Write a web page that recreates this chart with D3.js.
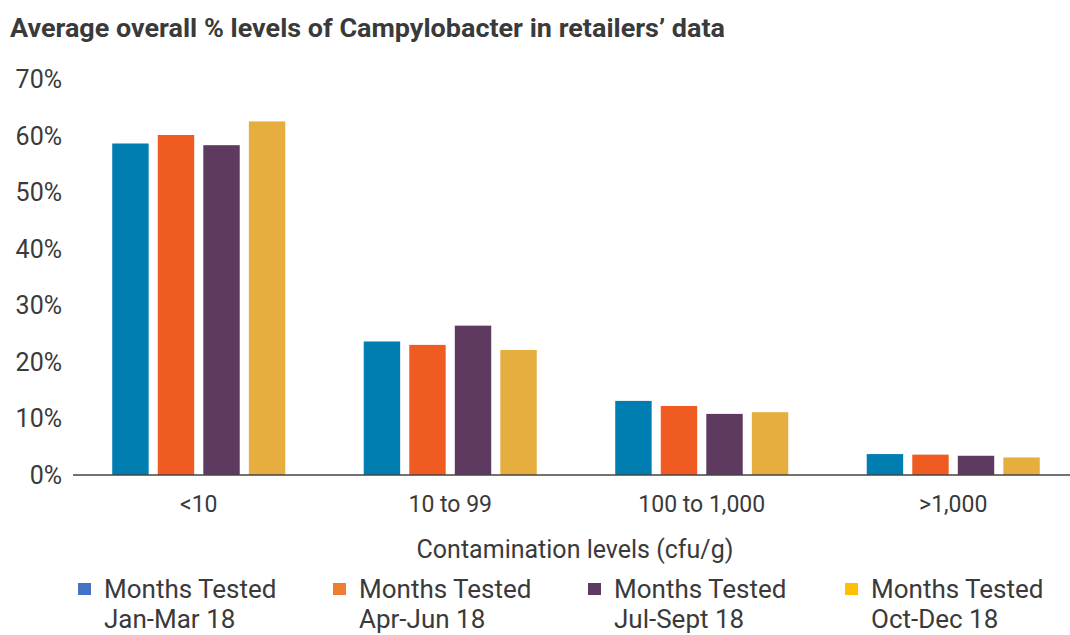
<!DOCTYPE html>
<meta charset="utf-8">
<script src="https://d3js.org/d3.v7.min.js"></script>
<style>
  body { margin: 0; background: #fff; }
  text { font-family: Roboto, "Open Sans", sans-serif; fill: #3a3a3a; }
</style>
<div id="my_dataviz"></div>
<script>
// categories and series
var levels = ["<10", "10 to 99", "100 to 1,000", ">1,000"];
var periods = ["Jan-Mar 18", "Apr-Jun 18", "Jul-Sept 18", "Oct-Dec 18"];
var janMar = [58.6, 23.6, 13.1, 3.7];
var aprJun = [60.1, 23.0, 12.2, 3.6];
var julSep = [58.3, 26.4, 10.8, 3.4];
var octDec = [62.5, 22.1, 11.1, 3.1];
var yTicks = [0, 10, 20, 30, 40, 50, 60, 70];

var series = [janMar, aprJun, julSep, octDec];
var barColors = ["#007db1", "#f05b22", "#5e3960", "#e6ad3f"];
var legendColors = ["#4472c4", "#ed7d31", "#5e3960", "#ffc000"];

var width = 1070, height = 635;
var svg = d3.select("#my_dataviz")
  .append("svg")
    .attr("width", width)
    .attr("height", height);

// title
svg.append("text")
  .attr("x", 10).attr("y", 37)
  .style("font-size", "25px")
  .style("font-weight", "bold")
  .attr("textLength", 715)
  .attr("lengthAdjust", "spacingAndGlyphs")
  .text("Average overall % levels of Campylobacter in retailers\u2019 data");

// scales
var x = d3.scaleBand()
  .domain(levels)
  .range([73, 1079])
  .paddingInner(0.312)
  .paddingOuter(0.156);
var xSub = d3.scaleBand()
  .domain(d3.range(4))
  .range([0, x.bandwidth()])
  .paddingInner(0.2);
var y = d3.scaleLinear()
  .domain([0, 70])
  .range([475, 79]);

// y tick labels (no axis line)
svg.append("g")
  .selectAll("text")
  .data(yTicks)
  .enter()
  .append("text")
    .attr("x", 62)
    .attr("y", function(d) { return y(d); })
    .attr("dy", "0.36em")
    .attr("text-anchor", "end")
    .style("font-size", "25px")
    .text(function(d) { return d + "%"; });

// bars
series.forEach(function(vals, i) {
  svg.append("g")
    .selectAll("rect")
    .data(vals)
    .enter()
    .append("rect")
      .attr("x", function(d, j) { return x(levels[j]) + xSub(i); })
      .attr("y", function(d) { return y(d); })
      .attr("width", xSub.bandwidth())
      .attr("height", function(d) { return y(0) - y(d); })
      .attr("fill", barColors[i]);
});

// baseline
svg.append("line")
  .attr("x1", 73).attr("x2", 1070)
  .attr("y1", y(0)).attr("y2", y(0))
  .attr("stroke", "#444")
  .attr("stroke-width", 1.5);

// category labels
svg.append("g")
  .selectAll("text")
  .data(levels)
  .enter()
  .append("text")
    .attr("x", function(d) { return x(d) + x.bandwidth() / 2; })
    .attr("y", 512)
    .attr("text-anchor", "middle")
    .style("font-size", "23px")
    .text(function(d) { return d; });

// axis title
svg.append("text")
  .attr("x", 575).attr("y", 558)
  .attr("text-anchor", "middle")
  .style("font-size", "25px")
  .text("Contamination levels (cfu/g)");

// legend
var legendX = [78, 333, 588, 845];
var legend = svg.append("g")
  .selectAll("g")
  .data(periods)
  .enter()
  .append("g")
    .attr("transform", function(d, i) { return "translate(" + legendX[i] + ",0)"; });
legend.append("rect")
  .attr("x", 0).attr("y", 583)
  .attr("width", 13).attr("height", 12)
  .attr("fill", function(d, i) { return legendColors[i]; });
legend.append("text")
  .attr("x", 26).attr("y", 598)
  .style("font-size", "26px")
  .text("Months Tested");
legend.append("text")
  .attr("x", 26).attr("y", 628)
  .style("font-size", "26px")
  .text(function(d) { return d; });
</script>
